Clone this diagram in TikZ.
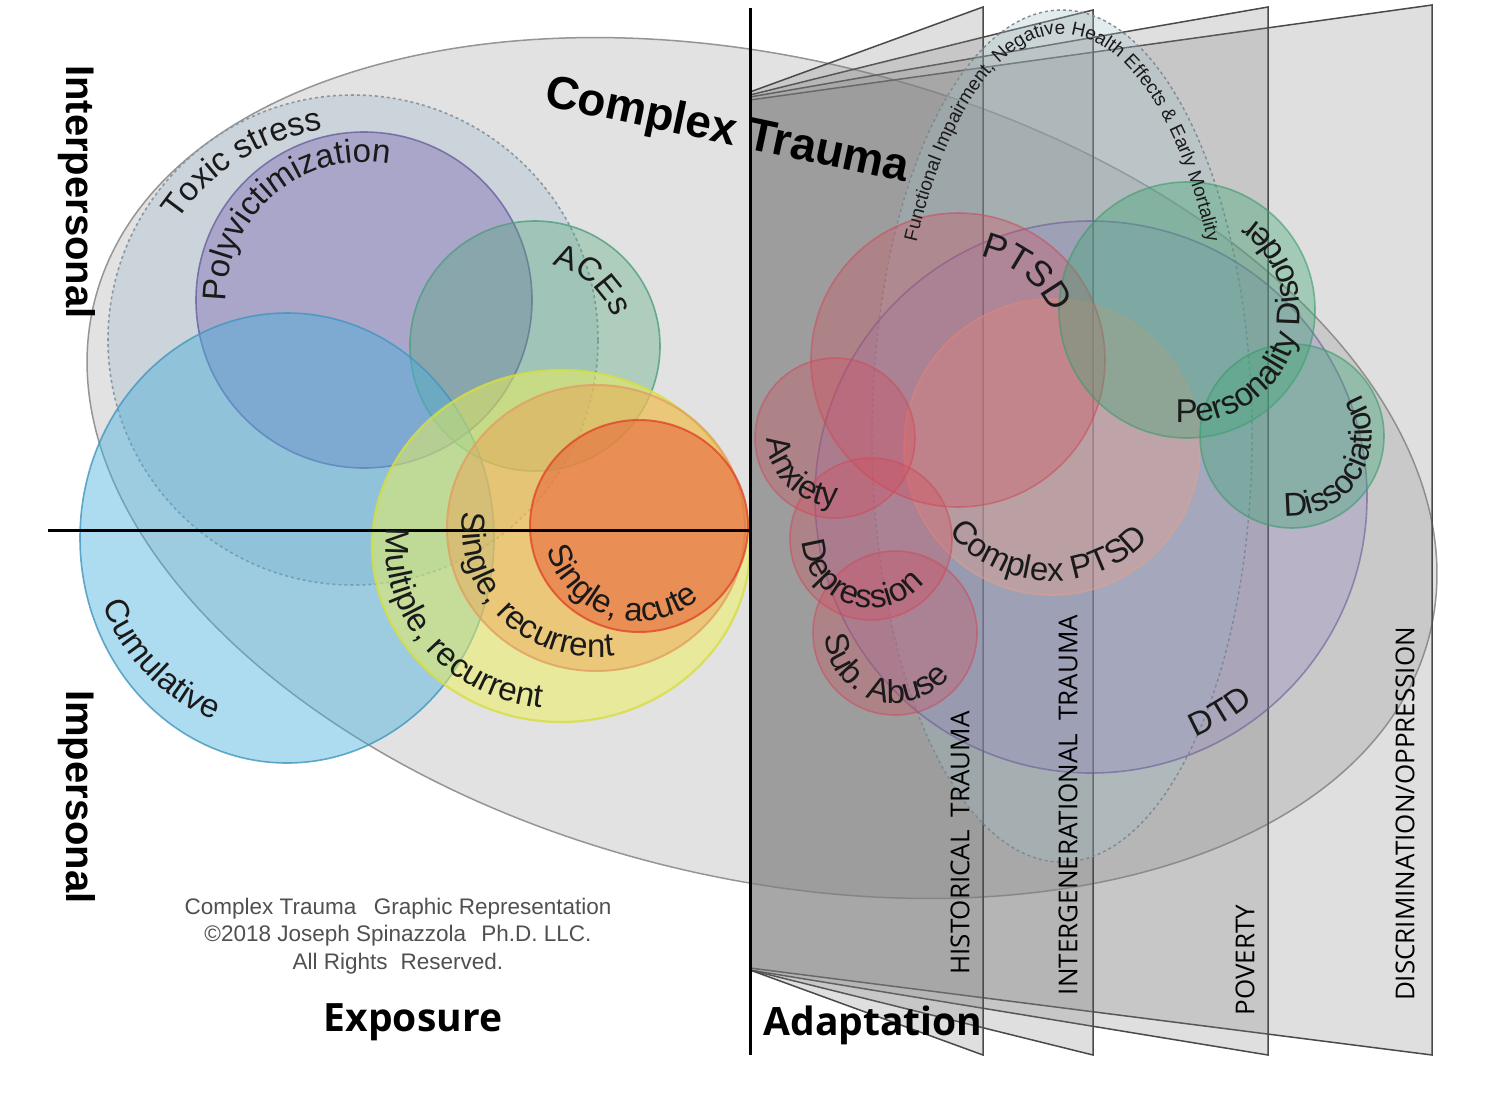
\documentclass[tikz,border=0pt]{standalone}
\usepackage{fontspec}
\setmainfont{Liberation Sans}
\newfontfamily\osans{Open Sans}
\usetikzlibrary{decorations.text}
\definecolor{ctfill}{HTML}{E2E2E2}
\definecolor{ctline}{HTML}{959595}
\definecolor{toxfill}{HTML}{A9BFCF}
\definecolor{toxline}{HTML}{8A98A2}
\definecolor{polyfill}{HTML}{8070B8}
\definecolor{polyline}{HTML}{6A60A0}
\definecolor{acefill}{HTML}{50A878}
\definecolor{aceline}{HTML}{4E9E7E}
\definecolor{cumfill}{HTML}{4AB0DC}
\definecolor{cumline}{HTML}{4096BE}
\definecolor{yelfill}{HTML}{EEF055}
\definecolor{yelline}{HTML}{D6DE40}
\definecolor{orafill}{HTML}{F0A050}
\definecolor{oraline}{HTML}{E0A060}
\definecolor{redfill}{HTML}{E86038}
\definecolor{redline}{HTML}{E04828}
\definecolor{panfill}{HTML}{808080}
\definecolor{panline}{HTML}{4A4A4A}
\definecolor{ptsdfill}{HTML}{D84858}
\definecolor{ptsdline}{HTML}{C85060}
\definecolor{cpfill}{HTML}{E8A088}
\definecolor{dtdfill}{HTML}{8C7CC0}
\definecolor{dtdline}{HTML}{6A5A98}
\definecolor{grnfill}{HTML}{40A878}
\definecolor{grnline}{HTML}{3C9A6C}
\definecolor{fxfill}{HTML}{A0C0C8}
\definecolor{fxline}{HTML}{7E8A92}
\definecolor{copygray}{HTML}{505050}
\definecolor{labink}{HTML}{1A1A1A}
\newcommand{\LabA}{\fontsize{33}{33}\selectfont}
\newcommand{\LabB}{\fontsize{19}{19}\selectfont}
\newcommand{\LabC}{\fontsize{36}{36}\selectfont}
\newcommand{\ArcLabel}[5]{\path[decorate,decoration={text along path,text align=center,text color=labink,text={#5}}] ([shift={(#3:#2)}]#1) arc[start angle=#3,end angle=#4,radius=#2];}
\newcommand{\EllLabel}[6]{\path[decorate,decoration={text along path,text align=center,text color=labink,text={#6}}] ([shift={(#4:#2 and #3)}]#1) arc[start angle=#4,end angle=#5,x radius=#2,y radius=#3];}
\tikzset{
  vennline/.style={line width=1.6pt, draw opacity=0.8},
  panel/.style={fill=panfill, fill opacity=0.25, draw=panline, line width=1.5pt},
  axisline/.style={line width=3pt, black},
  panlabel/.style={rotate=90, font=\osans\fontsize{26}{26}\selectfont, text=black},
  sidelabel/.style={rotate=-90, font=\bfseries\fontsize{40}{40}\selectfont},
  bottomlabel/.style={font=\osans\bfseries\fontsize{39}{39}\selectfont}
}
\begin{document}
\begin{tikzpicture}[x=1pt,y=1pt]
\useasboundingbox (0,0) rectangle (1490,-1098);
\fill[white] (0,0) rectangle (1490,-1098);
% centres
\coordinate (cCT) at (762,-468);
\coordinate (cTox) at (353,-340);
\coordinate (cPoly) at (364,-300);
\coordinate (cAce) at (535,-346);
\coordinate (cCum) at (287,-538);
\coordinate (cYel) at (561,-546);
\coordinate (cOra) at (596,-528);
\coordinate (cRed) at (639,-526);
\coordinate (cFx) at (1062,-436);
\coordinate (cDTD) at (1091,-497);
\coordinate (cCP) at (1052,-447);
\coordinate (cPTSD) at (958,-360);
\coordinate (cAnx) at (835,-438);
\coordinate (cDep) at (871,-539);
\coordinate (cSub) at (895,-633);
\coordinate (cPD) at (1187,-310);
\coordinate (cDis) at (1292,-436);
% complex trauma ellipse
\draw[fill=ctfill, draw=ctline, line width=1.5pt, rotate around={-14:(cCT)}] (cCT) ellipse[x radius=688, y radius=409];
% exposure side
\draw[fill=toxfill, fill opacity=0.4, draw=toxline, line width=1.6pt, dash pattern=on 3pt off 3pt] (cTox) circle[radius=245];
\draw[vennline, fill=polyfill, fill opacity=0.45, draw=polyline] (cPoly) circle[radius=168];
\draw[vennline, fill=acefill, fill opacity=0.35, draw=aceline] (cAce) circle[radius=125];
\draw[vennline, fill=cumfill, fill opacity=0.45, draw=cumline] (cCum) ellipse[x radius=207, y radius=225];
\draw[vennline, fill=yelfill, fill opacity=0.5, draw=yelline, line width=2.2pt] (cYel) ellipse[x radius=189, y radius=176];
\draw[vennline, fill=orafill, fill opacity=0.45, draw=oraline, line width=2pt] (cOra) ellipse[x radius=149, y radius=143];
\draw[vennline, fill=redfill, fill opacity=0.55, draw=redline, line width=2pt] (cRed) ellipse[x radius=109, y radius=106];
% adaptation panels
\coordinate (p1a) at (750,-92);  \coordinate (p1b) at (983,-7);   \coordinate (p1c) at (983,-1055);  \coordinate (p1d) at (750,-970);
\coordinate (p2a) at (750,-95);  \coordinate (p2b) at (1093,-10); \coordinate (p2c) at (1093,-1055); \coordinate (p2d) at (750,-970);
\coordinate (p3a) at (750,-97);  \coordinate (p3b) at (1268,-7);  \coordinate (p3c) at (1268,-1055); \coordinate (p3d) at (750,-970);
\coordinate (p4a) at (750,-100); \coordinate (p4b) at (1432,-5);  \coordinate (p4c) at (1432,-1055); \coordinate (p4d) at (750,-968);
\draw[panel] (p4a) -- (p4b) -- (p4c) -- (p4d) -- cycle;
\draw[panel] (p3a) -- (p3b) -- (p3c) -- (p3d) -- cycle;
\draw[panel] (p2a) -- (p2b) -- (p2c) -- (p2d) -- cycle;
\draw[panel] (p1a) -- (p1b) -- (p1c) -- (p1d) -- cycle;
% adaptation circles
\draw[fill=fxfill, fill opacity=0.3, draw=fxline, line width=1.4pt, dash pattern=on 3pt off 3pt] (cFx) ellipse[x radius=190, y radius=426];
\draw[vennline, fill=dtdfill, fill opacity=0.28, draw=dtdline, draw opacity=0.6] (cDTD) circle[radius=276];
\draw[vennline, fill=cpfill, fill opacity=0.38, draw=cpfill, draw opacity=0.5] (cCP) circle[radius=148];
\draw[vennline, fill=ptsdfill, fill opacity=0.3, draw=ptsdline, draw opacity=0.6] (cPTSD) circle[radius=147];
\draw[vennline, fill=ptsdfill, fill opacity=0.3, draw=ptsdline, draw opacity=0.6] (cAnx) circle[radius=80];
\draw[vennline, fill=ptsdfill, fill opacity=0.3, draw=ptsdline, draw opacity=0.6] (cDep) circle[radius=81];
\draw[vennline, fill=ptsdfill, fill opacity=0.3, draw=ptsdline, draw opacity=0.6] (cSub) circle[radius=82];
\draw[vennline, fill=grnfill, fill opacity=0.38, draw=grnline, draw opacity=0.6] (cPD) circle[radius=128];
\draw[vennline, fill=grnfill, fill opacity=0.38, draw=grnline, draw opacity=0.6] (cDis) circle[radius=92];
% axes
\coordinate (axL) at (48,-530);
\coordinate (axO) at (750,-530);
\coordinate (axT) at (750,-8);
\coordinate (axB) at (750,-1055);
\draw[axisline] (axL) -- (axO);
\draw[axisline] (axT) -- (axB);
% curved labels
\ArcLabel{cTox}{212}{157}{87}{|\LabA|Toxic stress}
\ArcLabel{cPoly}{138}{195}{65}{|\LabA|Polyvictimization}
\ArcLabel{cAce}{83}{89}{9}{|\LabA|ACEs}
\ArcLabel{cCum}{196}{189}{259}{|\LabA|Cumulative}
\EllLabel{cYel}{175}{163}{158}{278}{|\LabA|Multiple, recurrent}
\EllLabel{cOra}{134}{129}{155}{295}{|\LabA|Single, recurrent}
\ArcLabel{cRed}{95}{177}{327}{|\LabA|Single, acute}
\ArcLabel{cPTSD}{106}{92}{12}{|\LabC|PTSD}
\ArcLabel{cCP}{134}{203}{333}{|\LabA|Complex PTSD}
\ArcLabel{cAnx}{68}{166}{286}{|\LabA|Anxiety}
\ArcLabel{cDep}{69}{166}{336}{|\LabA|Depression}
\ArcLabel{cSub}{70}{167}{337}{|\LabA|Sub. Abuse}
\ArcLabel{cPD}{113}{252}{427}{|\LabA|Personality Disorder}
\ArcLabel{cDis}{80}{248}{408}{|\LabA|Dissociation}
\ArcLabel{cDTD}{262}{286}{316}{|\LabA|DTD}
\EllLabel{cFx}{166}{402}{176}{4}{|\LabB|Functional Impairment, Negative Health Effects {\&} Early Mortality}
% straight labels
\node[rotate=-12, font=\bfseries\fontsize{46}{46}\selectfont] (ctitle) at (727,-132) {Complex Trauma};
\node[sidelabel] (inter) at (77,-192) {Interpersonal};
\node[sidelabel] (imper) at (77,-797) {Impersonal};
\node[bottomlabel] (expo) at (413,-1022) {Exposure};
\node[bottomlabel] (adapt) at (873,-1025) {Adaptation};
\node[align=center, text=copygray, font=\fontsize{22.5}{27.5}\selectfont] (copyr) at (398,-936) {Complex Trauma\hspace{0.5em} Graphic Representation\\ ©2018 Joseph Spinazzola\hspace{0.4em} Ph.D. LLC.\\ All Rights\hspace{0.3em} Reserved.};
\node[panlabel] (hist) at (960,-843) {HISTORICAL\hspace{0.5em}TRAUMA};
\node[panlabel] (inter2) at (1068,-805) {INTERGENERATIONAL\hspace{0.5em}TRAUMA};
\node[panlabel] (pov) at (1245,-960) {POVERTY};
\node[panlabel] (disc) at (1405,-814) {DISCRIMINATION/OPPRESSION};
\end{tikzpicture}
\end{document}
